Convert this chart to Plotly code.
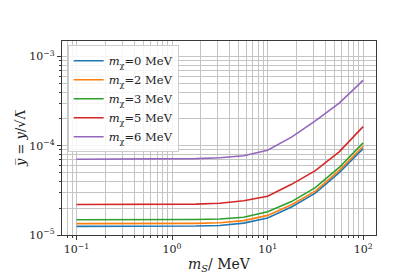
import plotly.graph_objects as go

m_S = [0.1, 0.178, 0.316, 0.562, 1.0, 1.78, 3.16, 5.62, 10.0, 17.8, 31.6, 56.2, 100.0]

y_m0 = [1.25e-5, 1.25e-5, 1.25e-5, 1.25e-5, 1.25e-5, 1.26e-5, 1.28e-5, 1.36e-5, 1.55e-5, 2.06e-5, 2.95e-5, 5.0e-5, 9.3e-5]
y_m2 = [1.34e-5, 1.34e-5, 1.34e-5, 1.34e-5, 1.34e-5, 1.35e-5, 1.37e-5, 1.45e-5, 1.66e-5, 2.18e-5, 3.1e-5, 5.3e-5, 9.9e-5]
y_m3 = [1.48e-5, 1.48e-5, 1.48e-5, 1.48e-5, 1.48e-5, 1.49e-5, 1.51e-5, 1.58e-5, 1.82e-5, 2.37e-5, 3.4e-5, 5.72e-5, 1.08e-4]
y_m5 = [2.2e-5, 2.2e-5, 2.2e-5, 2.2e-5, 2.2e-5, 2.22e-5, 2.27e-5, 2.42e-5, 2.72e-5, 3.7e-5, 5.26e-5, 8.55e-5, 1.64e-4]
y_m6 = [7.06e-5, 7.06e-5, 7.06e-5, 7.07e-5, 7.1e-5, 7.18e-5, 7.36e-5, 7.74e-5, 8.9e-5, 1.25e-4, 1.9e-4, 3.01e-4, 5.42e-4]

series = [("0", y_m0, "#1f77b4"), ("2", y_m2, "#ff7f0e"), ("3", y_m3, "#2ca02c"),
          ("5", y_m5, "#d62728"), ("6", y_m6, "#9467bd")]

x_major = [0.1, 1, 10, 100]
x_major_text = ["10<sup>−1</sup>", "10<sup>0</sup>", "10<sup>1</sup>", "10<sup>2</sup>"]
y_major = [1e-5, 1e-4, 1e-3]
y_major_text = ["10<sup>−5</sup>", "10<sup>−4</sup>", "10<sup>−3</sup>"]

x_minor = [m * 10 ** e for e in range(-2, 3) for m in range(2, 10)]
y_minor = [m * 10 ** e for e in range(-6, -2) for m in range(2, 10)]

font_family = "DejaVu Serif"

fig = go.Figure()
for mx, ys, col in series:
    fig.add_trace(go.Scatter(
        x=m_S, y=ys, mode="lines",
        line=dict(color=col, width=1.6),
        name=f"<i>m</i><sub>χ</sub>={mx} MeV",
    ))

axis_common = dict(
    type="log", showgrid=True, gridcolor="#c4c4c4", gridwidth=1,
    showline=True, linecolor="#3a3a3a", linewidth=1.3, mirror=True,
    ticks="outside", ticklen=4, tickcolor="#3a3a3a", tickwidth=1,
    zeroline=False, tickfont=dict(family=font_family, size=11, color="#222"),
)

fig.update_xaxes(
    **axis_common,
    range=[-1.152, 2.135],
    tickmode="array", tickvals=x_major, ticktext=x_major_text,
    minor=dict(tickmode="array", tickvals=x_minor, ticks="outside", ticklen=2,
               tickcolor="#3a3a3a", showgrid=True, gridcolor="#c4c4c4", gridwidth=1),
    title=dict(text="<i>m<sub>S</sub></i>/ MeV", font=dict(family=font_family, size=14, color="#222"), standoff=3),
)
fig.update_yaxes(
    **axis_common,
    range=[-5, -2.825],
    tickmode="array", tickvals=y_major, ticktext=y_major_text,
    minor=dict(tickmode="array", tickvals=y_minor, ticks="outside", ticklen=2,
               tickcolor="#3a3a3a", showgrid=True, gridcolor="#c4c4c4", gridwidth=1),
    title=dict(text="<i>y̅</i> = <i>y</i>/√Λ̅", font=dict(family=font_family, size=13, color="#222"), standoff=0),
)

fig.update_layout(
    width=409, height=273,
    margin=dict(l=51, r=41, t=33, b=41),
    paper_bgcolor="white", plot_bgcolor="white",
    showlegend=True,
    legend=dict(
        x=0.018, y=0.978, xanchor="left", yanchor="top",
        bgcolor="rgba(255,255,255,0.85)", bordercolor="#cccccc", borderwidth=1,
        font=dict(family=font_family, size=11.5, color="#222"),
        itemwidth=30, tracegroupgap=0,
    ),
)

fig.write_html("out.html")
